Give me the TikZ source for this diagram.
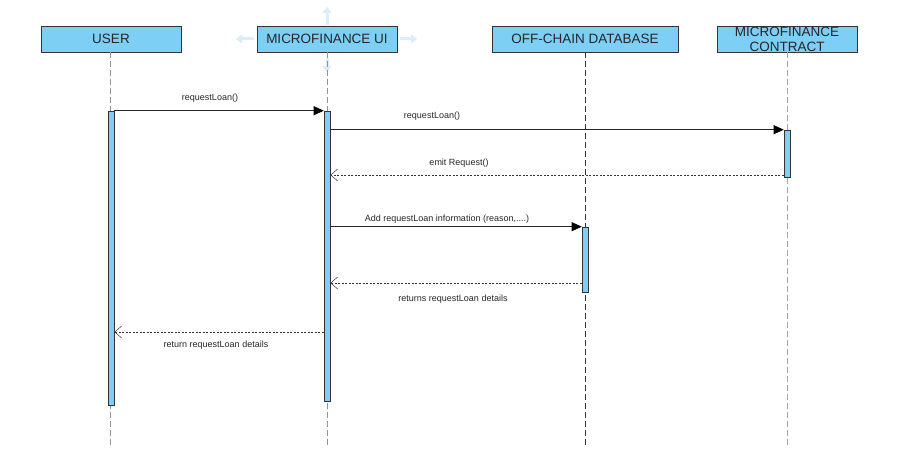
\documentclass[tikz,border=0pt]{standalone}
\usepackage{fontspec}
\setmainfont{Liberation Sans}
\usetikzlibrary{arrows.meta}
\definecolor{boxblue}{HTML}{7DCFF5}
\definecolor{edgec}{HTML}{333333}
\definecolor{ghost}{HTML}{D9EEFA}
\begin{document}
\begin{tikzpicture}[x=1pt,y=-1pt,
  header/.style={draw=edgec,fill=boxblue,minimum height=26pt,inner sep=0pt,line width=0.7pt,
    font=\fontsize{13.5}{15}\selectfont,text=black!85,align=center},
  act/.style={draw=edgec,fill=boxblue,minimum width=6pt,inner sep=0pt,line width=0.6pt},
  life/.style={draw=gray!85,dash pattern=on 6pt off 3pt,line width=0.8pt},
  msg/.style={draw=black!85,line width=0.6pt,-{Triangle[length=10pt,width=9pt,fill=black,color=black]}},
  ret/.style={draw=black!80,line width=0.6pt,dash pattern=on 2pt off 1.5pt,
    -{Straight Barb[length=7pt,width=12pt,line width=0.5pt]}},
  lbl/.style={font=\fontsize{9}{10}\selectfont,text=black!85,inner sep=0pt},
  ghostarrow/.style={draw=ghost,line width=3pt,-{Triangle[length=6pt,width=9pt]}}]
\useasboundingbox (0,0) rectangle (913,476);

% headers
\node[header,minimum width=140pt] (user) at (111,39) {USER};
\node[header,minimum width=140pt] (ui) at (327,39) {MICROFINANCE UI};
\node[header,minimum width=186pt] (db) at (585,39) {OFF-CHAIN DATABASE};
\node[header,minimum width=140pt] (mc) at (787,39) {MICROFINANCE\\CONTRACT};

% ghost hover arrows around UI box
\coordinate (gl1) at (254,39); \coordinate (gl2) at (236,39);
\coordinate (gr1) at (400,39); \coordinate (gr2) at (417,39);
\coordinate (gu1) at (327,25); \coordinate (gu2) at (327,7);
\coordinate (gd1) at (327,58); \coordinate (gd2) at (327,72);
\draw[ghostarrow] (gl1) -- (gl2);
\draw[ghostarrow] (gr1) -- (gr2);
\draw[ghostarrow] (gu1) -- (gu2);
\draw[ghostarrow] (gd1) -- (gd2);

% lifelines
\coordinate (userend) at (110,448);
\coordinate (uiend) at (327,448);
\coordinate (dbend) at (585,448);
\coordinate (mcend) at (787,448);
\draw[life] (user.south -| userend) -- (userend);
\draw[life] (ui.south) -- (uiend);
\draw[life,draw=black!80] (db.south) -- (dbend);
\draw[life,draw=gray!70] (mc.south) -- (mcend);

% activation bars
\node[act,minimum height=294pt] (uact) at (111,258) {};
\node[act,minimum height=290pt] (uiact) at (327,256) {};
\node[act,minimum height=47pt] (mcact) at (787,153.5) {};
\node[act,minimum height=65pt] (dbact) at (585,259.5) {};

% message rows
\coordinate (r3) at (0,175);
\coordinate (r5) at (0,283);
\coordinate (r6) at (0,332);

\draw[msg] (uact.north east) -- (uiact.north west);
\draw[msg] (uiact.east |- mcact.north) -- (mcact.north west);
\draw[ret] (mcact.west |- r3) -- (uiact.east |- r3);
\draw[msg] (uiact.east |- dbact.north) -- (dbact.north west);
\draw[ret] (dbact.west |- r5) -- (uiact.east |- r5);
\draw[ret] (uiact.west |- r6) -- (uact.east |- r6);

% labels
\node[lbl] (l1) at (210,98) {requestLoan()};
\node[lbl] (l2) at (432,116) {requestLoan()};
\node[lbl] (l3) at (459,163) {emit Request()};
\node[lbl] (l4) at (447,219) {Add requestLoan information (reason,....)};
\node[lbl] (l5) at (453,299) {returns requestLoan details};
\node[lbl] (l6) at (216,345) {return requestLoan details};
\end{tikzpicture}
\end{document}
